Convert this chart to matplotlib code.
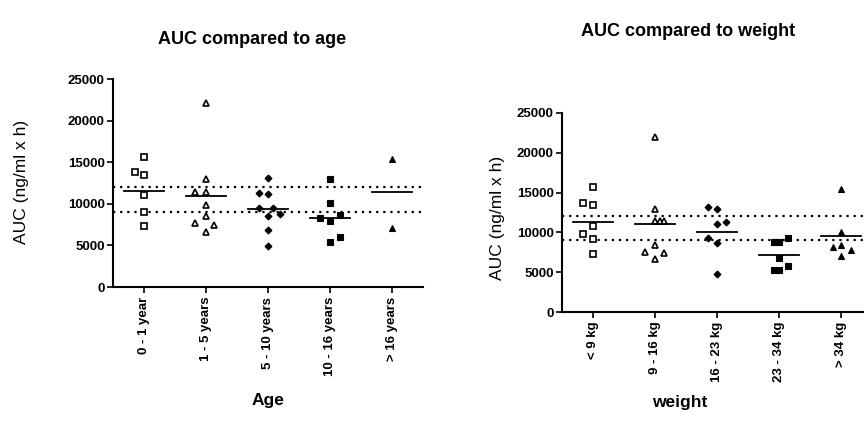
import numpy as np
import matplotlib
matplotlib.use("Agg")
import matplotlib.pyplot as plt
from matplotlib import font_manager

names = {f.name for f in font_manager.fontManager.ttflist}
fam = [n for n in ['Liberation Sans Narrow', 'Liberation Sans', 'DejaVu Sans'] if n in names]
plt.rcParams['font.family'] = fam
plt.rcParams['font.weight'] = 'bold'

# AUC values per group (ng/ml x h)
age_labels = ["0 - 1 year", "1 - 5 years", "5 - 10 years", "10 - 16 years", "> 16 years"]
age_auc = [
    [15590, 13860, 13460, 11020, 9014, 7370],
    [22080, 12945, 11455, 11455, 9856, 8534, 7656, 7452, 6647],
    [13140, 11260, 11180, 9455, 9455, 8570, 8774, 6850, 4960],
    [12945, 10060, 8330, 7930, 8654, 5445, 5974],
    [15385, 7130],
]
# horizontal spread of points within a group (category units)
age_dx = [
    [0, -0.15, 0, 0, 0, 0],
    [0, 0, -0.17, 0, 0, 0, -0.17, 0.13, 0],
    [0, -0.15, 0, -0.15, 0.08, 0, 0.19, 0, 0],
    [0, 0, -0.16, 0, 0.16, 0, 0.16],
    [0, 0],
]
age_mean = [11500, 10940, 9340, 8330, 11455]

weight_labels = ["< 9 kg", "9 - 16 kg", "16 - 23 kg", "23 - 34 kg", "> 34 kg"]
weight_auc = [
    [15660, 13650, 13400, 10840, 9830, 9170, 7290],
    [22030, 12940, 11470, 11470, 11470, 8420, 7580, 7370, 6620],
    [13150, 12900, 11055, 11270, 9260, 8630, 4770],
    [8824, 8824, 9330, 6807, 5800, 5250, 5250],
    [15450, 10090, 8200, 8417, 7790, 7035],
]
weight_dx = [
    [0, -0.16, 0, 0, -0.16, 0, 0],
    [0, 0, 0, 0.08, 0.15, 0, -0.16, 0.15, 0],
    [-0.145, 0, 0, 0.14, -0.145, 0, 0],
    [-0.08, 0, 0.15, 0, 0.15, -0.08, 0],
    [0, 0, -0.13, 0, 0.16, 0],
]
weight_mean = [11350, 11055, 10090, 7100, 9585]

ref_band = [9000, 12000]

markers = [
    dict(marker='s', mfc='white', mec='black', ms=4, mew=1.2),
    dict(marker='^', mfc='white', mec='black', ms=4.5, mew=1.2),
    dict(marker='D', mfc='black', mec='black', ms=3.5, mew=0.8),
    dict(marker='s', mfc='black', mec='black', ms=4.5, mew=0.8),
    dict(marker='^', mfc='black', mec='black', ms=5, mew=0.8),
]


def draw(ax, labels, auc, dx, means):
    for i, (vals, offs) in enumerate(zip(auc, dx)):
        x = i + np.array(offs)
        ax.plot(x, vals, linestyle='none', **markers[i])
        ax.plot([i - 0.33, i + 0.33], [means[i], means[i]], color='black', lw=1.3)
    for r in ref_band:
        ax.axhline(r, color='black', lw=1.6, linestyle=(0, (1, 2.2)), zorder=0)
    ax.set_xlim(-0.5, 4.5)
    ax.set_ylim(0, 25000)
    ax.set_yticks([0, 5000, 10000, 15000, 20000, 25000])
    ax.set_xticks(range(len(labels)))
    ax.set_xticklabels(labels, rotation=90, fontsize=9.5)
    ax.tick_params(axis='y', labelsize=9.5, length=4, width=1.2, pad=2)
    ax.tick_params(axis='x', length=4, width=1.2, pad=3)
    for s in ['top', 'right']:
        ax.spines[s].set_visible(False)
    for s in ['left', 'bottom']:
        ax.spines[s].set_linewidth(1.5)


fig = plt.figure(figsize=(8.64, 4.29), dpi=100)
ax1 = fig.add_axes([0.1308, 0.331, 0.3588, 0.4848])
ax2 = fig.add_axes([0.6505, 0.2727, 0.3588, 0.4639])

draw(ax1, age_labels, age_auc, age_dx, age_mean)
draw(ax2, weight_labels, weight_auc, weight_dx, weight_mean)

fig.text(252 / 864, 1 - 39 / 429, "AUC compared to age", ha='center', va='center', fontsize=13)
fig.text(688 / 864, 1 - 31 / 429, "AUC compared to weight", ha='center', va='center', fontsize=13)
fig.text(22 / 864, 1 - 182 / 429, "AUC (ng/ml x h)", rotation=90, ha='center', va='center',
         fontsize=12.5, fontweight='normal')
fig.text(498 / 864, 1 - 218 / 429, "AUC (ng/ml x h)", rotation=90, ha='center', va='center',
         fontsize=12.5, fontweight='normal')
fig.text(268 / 864, 1 - 400 / 429, "Age", ha='center', va='center', fontsize=12.5)
fig.text(680 / 864, 1 - 402 / 429, "weight", ha='center', va='center', fontsize=12.5)

fig.savefig("out.png", dpi=100)
